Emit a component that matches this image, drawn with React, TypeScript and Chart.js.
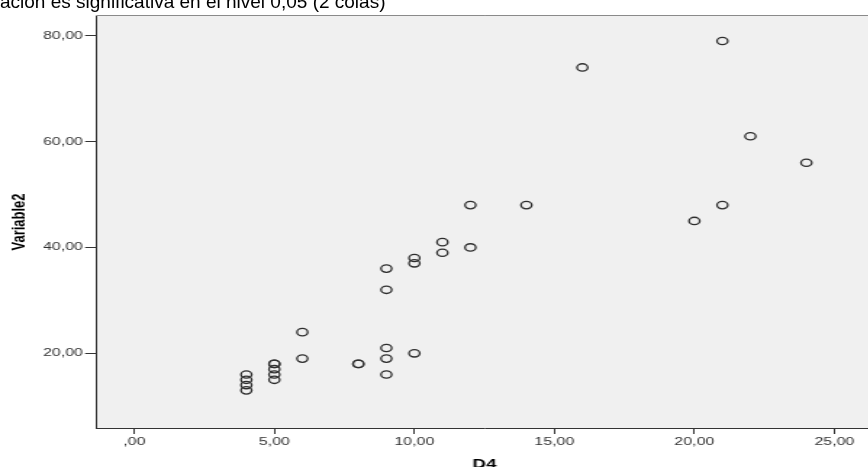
import React, { useEffect, useRef } from "react";
import { Chart, registerables } from "chart.js";

Chart.register(...registerables);

// ---- data ----
const d4 = [4, 4, 4, 4, 5, 5, 5, 5, 5, 6, 6, 8, 8, 9, 9, 9, 9, 9, 10, 10, 10, 11, 11, 12, 12, 14, 16, 20, 21, 21, 22, 24];
const variable2 = [13, 14, 15, 16, 15, 16, 17, 18, 18, 19, 24, 18, 18, 16, 19, 21, 32, 36, 20, 37, 38, 39, 41, 40, 48, 48, 74, 45, 48, 79, 61, 56];

const xTicks = [0, 5, 10, 15, 20, 25];
const xTickLabels = [",00", "5,00", "10,00", "15,00", "20,00", "25,00"];
const yTicks = [20, 40, 60, 80];
const yTickLabels = ["20,00", "40,00", "60,00", "80,00"];

const xTitle = "D4";
const yTitle = "Variable2";
const noteText = "ación es significativa en el nivel 0,05 (2 colas)";

// ---- layout (the original picture is stretched horizontally) ----
const S = 1.45;
const W = 607;
const H = 480;

const plotBg = {
  id: "plotBg",
  beforeDraw(chart: any) {
    const { ctx, chartArea } = chart;
    const { left, top, right, bottom } = chartArea;
    ctx.save();
    ctx.fillStyle = "#f0f0f0";
    ctx.fillRect(left, top, right - left, bottom - top);
    ctx.strokeStyle = "#8a8a8a";
    ctx.lineWidth = 1;
    ctx.beginPath();
    ctx.moveTo(left, top - 0.5);
    ctx.lineTo(right, top - 0.5);
    ctx.stroke();
    ctx.restore();
  },
};

export default function App() {
  const ref = useRef<HTMLCanvasElement | null>(null);

  useEffect(() => {
    if (!ref.current) return;
    const points = d4.map((x, i) => ({ x, y: variable2[i] }));
    const fontFam = "'Liberation Sans', Arial, sans-serif";
    const chart = new Chart(ref.current, {
      type: "scatter",
      data: {
        datasets: [
          {
            data: points,
            pointStyle: "circle",
            pointRadius: 3.7,
            pointHoverRadius: 3.7,
            pointBorderColor: "#2e2e2e",
            pointBackgroundColor: "rgba(0,0,0,0)",
            pointBorderWidth: 1.3,
          },
        ],
      },
      options: {
        animation: false,
        responsive: false,
        devicePixelRatio: 1,
        layout: { padding: { top: 16, left: 0, right: 0, bottom: 0 } },
        plugins: {
          legend: { display: false },
          tooltip: { enabled: false },
        },
        events: [],
        scales: {
          x: {
            type: "linear",
            min: -1.369,
            max: 26.375,
            afterBuildTicks: (s: any) => {
              s.ticks = xTicks.map((v) => ({ value: v }));
            },
            afterFit: (s: any) => {
              s.height = H - 428;
            },
            ticks: {
              autoSkip: false,
              maxRotation: 0,
              padding: 1,
              color: "#333333",
              font: { family: fontFam, size: 11 },
              callback: (v: any) => xTickLabels[xTicks.indexOf(Number(v))],
            },
            grid: {
              drawOnChartArea: false,
              drawTicks: true,
              tickLength: 6,
              color: "#333333",
            },
            border: { display: true, color: "#333333", width: 1 },
            title: {
              display: true,
              text: xTitle,
              color: "#000000",
              font: { family: fontFam, size: 13, weight: "bold" },
              padding: { top: 0, bottom: 8 },
            },
          },
          y: {
            type: "linear",
            min: 5.89,
            max: 83.72,
            afterBuildTicks: (s: any) => {
              s.ticks = yTicks.map((v) => ({ value: v }));
            },
            afterFit: (s: any) => {
              s.width = 96 / S;
            },
            ticks: {
              padding: 1.5,
              color: "#333333",
              font: { family: fontFam, size: 11 },
              callback: (v: any) => yTickLabels[yTicks.indexOf(Number(v))],
            },
            grid: {
              drawOnChartArea: false,
              drawTicks: true,
              tickLength: 7.5,
              color: "#333333",
            },
            border: { display: true, color: "#333333", width: 1 },
            title: {
              display: true,
              text: yTitle,
              color: "#000000",
              font: { family: fontFam, size: 13, weight: "bold" },
              padding: { top: 6, bottom: 0 },
            },
          },
        },
      },
      plugins: [plotBg],
    });
    return () => chart.destroy();
  }, []);

  return (
    <div
      style={{
        position: "fixed",
        left: 0,
        top: 0,
        width: 868,
        height: 467,
        overflow: "hidden",
        background: "#ffffff",
      }}
    >
      <div
        style={{
          position: "absolute",
          left: 0,
          top: 0,
          width: W,
          height: H,
          transform: `scaleX(${S})`,
          transformOrigin: "0 0",
        }}
      >
        <canvas ref={ref} width={W} height={H} style={{ width: W, height: H, display: "block" }} />
      </div>
      <div
        style={{
          position: "absolute",
          left: 0,
          top: -7.8,
          fontFamily: "'Liberation Sans', Arial, sans-serif",
          fontSize: 19,
          lineHeight: "19px",
          color: "#000000",
          whiteSpace: "nowrap",
        }}
      >
        {noteText}
      </div>
    </div>
  );
}
